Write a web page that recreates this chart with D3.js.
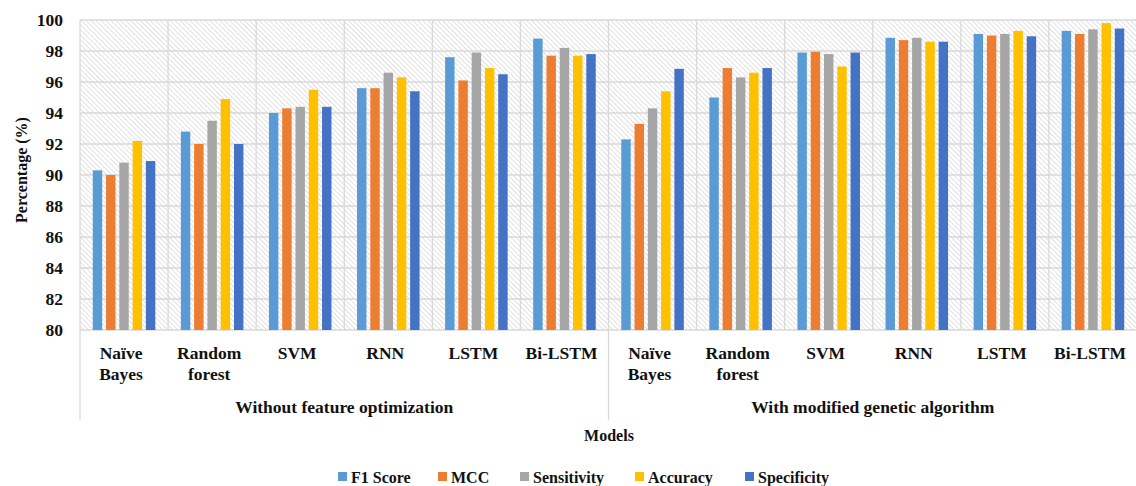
<!DOCTYPE html>
<html>
<head>
<meta charset="utf-8">
<script src="https://cdn.jsdelivr.net/npm/d3@7"></script>
<style>
  html, body { margin: 0; padding: 0; background: #fff; }
  svg text { font-family: 'Liberation Serif', serif; font-weight: bold; fill: #111; }
</style>
</head>
<body>
<div id="chart"></div>
<script>
// Model performance, two feature settings
const groups = ['Without feature optimization', 'With modified genetic algorithm'];
const models = ['Naïve Bayes', 'Random forest', 'SVM', 'RNN', 'LSTM', 'Bi-LSTM'];
const metrics = ['F1 Score', 'MCC', 'Sensitivity', 'Accuracy', 'Specificity'];
const colors = ['#5B9BD5', '#ED7D31', '#A5A5A5', '#FFC000', '#4472C4'];
const yTicks = [80, 82, 84, 86, 88, 90, 92, 94, 96, 98, 100];

// values per model: [F1, MCC, Sensitivity, Accuracy, Specificity]
const withoutOpt = [
    [90.3, 90.0, 90.8, 92.2, 90.9],
    [92.8, 92.0, 93.5, 94.9, 92.0],
    [94.0, 94.3, 94.4, 95.5, 94.4],
    [95.6, 95.6, 96.6, 96.3, 95.4],
    [97.6, 96.1, 97.9, 96.9, 96.5],
    [98.8, 97.7, 98.2, 97.7, 97.8]
];
const withGA = [
    [92.3, 93.3, 94.3, 95.4, 96.85],
    [95.0, 96.9, 96.3, 96.6, 96.9],
    [97.9, 97.95, 97.8, 97.0, 97.9],
    [98.85, 98.7, 98.85, 98.6, 98.6],
    [99.1, 99.0, 99.1, 99.3, 98.95],
    [99.3, 99.1, 99.4, 99.8, 99.45]
];

const width = 1136, height = 486;
const margin = { top: 20, right: -1, bottom: 156, left: 80 };
const chartWidth = width - margin.left - margin.right;
const chartHeight = height - margin.top - margin.bottom;
const serif = "'Liberation Serif', serif";

const rows = [];
[withoutOpt, withGA].forEach((set, gi) => {
    set.forEach((vals, mi) => {
        rows.push({ key: gi + '-' + mi, group: gi, model: models[mi], values: vals });
    });
});

const svg = d3.select('#chart').append('svg')
    .attr('width', width)
    .attr('height', height)
    .attr('font-family', 'Liberation Serif')
    .attr('font-weight', 'bold');

// hatch pattern for the plot background
const defs = svg.append('defs');
const pat = defs.append('pattern')
    .attr('id', 'hatch')
    .attr('patternUnits', 'userSpaceOnUse')
    .attr('width', 3.5)
    .attr('height', 3.5)
    .attr('patternTransform', 'rotate(-45)');
pat.append('rect').attr('width', 3.5).attr('height', 3.5).attr('fill', '#fff');
pat.append('line')
    .attr('x1', 0).attr('y1', 0).attr('x2', 0).attr('y2', 3.5)
    .attr('stroke', '#cfcfcf').attr('stroke-width', 1.2);

const g = svg.append('g')
    .attr('transform', `translate(${margin.left},${margin.top})`);

// Scales
const x0 = d3.scaleBand()
    .domain(rows.map(d => d.key))
    .range([0, chartWidth])
    .padding(0);

const x1 = d3.scaleBand()
    .domain(metrics)
    .range([x0.bandwidth() * 0.145, x0.bandwidth() * 0.855])
    .paddingInner(0.29);

const y = d3.scaleLinear()
    .domain([80, 100])
    .range([chartHeight, 0]);

g.append('rect')
    .attr('width', chartWidth)
    .attr('height', chartHeight)
    .attr('fill', 'url(#hatch)');

// Grid lines
g.append('g')
    .selectAll('line')
    .data(yTicks)
    .join('line')
    .attr('x1', 0)
    .attr('x2', chartWidth)
    .attr('y1', d => y(d))
    .attr('y2', d => y(d))
    .attr('stroke', '#d9d9d9')
    .attr('stroke-width', 1.3);

g.append('g')
    .selectAll('line')
    .data(rows)
    .join('line')
    .attr('x1', d => x0(d.key))
    .attr('x2', d => x0(d.key))
    .attr('y1', 0)
    .attr('y2', chartHeight)
    .attr('stroke', '#d9d9d9')
    .attr('stroke-width', 1.3);

// Bars
const cat = g.selectAll('.cat')
    .data(rows)
    .join('g')
    .attr('class', 'cat')
    .attr('transform', d => `translate(${x0(d.key)},0)`);

cat.selectAll('rect')
    .data(d => d.values.map((v, i) => ({ metric: metrics[i], value: v, color: colors[i] })))
    .join('rect')
    .attr('x', d => x1(d.metric))
    .attr('y', d => y(d.value))
    .attr('width', x1.bandwidth())
    .attr('height', d => y(80) - y(d.value))
    .attr('fill', d => d.color);

// Y axis labels
const yAxis = g.append('g')
    .call(d3.axisLeft(y).tickValues(yTicks).tickSize(0).tickPadding(17));
yAxis.attr('font-family', 'Liberation Serif').attr('font-size', 17.5);
yAxis.select('.domain').remove();
yAxis.selectAll('text')
    .style('font-family', serif)
    .style('font-weight', 'bold')
    .attr('fill', '#111');

g.append('text')
    .attr('transform', 'rotate(-90)')
    .attr('x', -150)
    .attr('y', -53)
    .style('text-anchor', 'middle')
    .style('font-size', '16px')
    .text('Percentage (%)');

// X axis: model labels
const modelLabels = g.append('g')
    .selectAll('text')
    .data(rows)
    .join('text')
    .attr('x', d => x0(d.key) + x0.bandwidth() / 2 - 3)
    .attr('y', chartHeight + 29)
    .style('text-anchor', 'middle')
    .style('font-size', '17.5px');

modelLabels.each(function(d) {
    const words = d.model.split(' ');
    const t = d3.select(this);
    words.forEach((w, i) => {
        t.append('tspan')
            .attr('x', x0(d.key) + x0.bandwidth() / 2 - 3)
            .attr('dy', i === 0 ? 0 : 21)
            .text(w);
    });
});

// Group separators and labels
const groupWidth = x0.bandwidth() * models.length;
g.append('g')
    .selectAll('line')
    .data([0, 1, 2])
    .join('line')
    .attr('x1', d => d * groupWidth)
    .attr('x2', d => d * groupWidth)
    .attr('y1', chartHeight)
    .attr('y2', chartHeight + 90)
    .attr('stroke', '#d9d9d9')
    .attr('stroke-width', 1.3);

g.append('g')
    .selectAll('text')
    .data(groups)
    .join('text')
    .attr('x', (d, i) => i * groupWidth + groupWidth / 2)
    .attr('y', chartHeight + 83)
    .style('text-anchor', 'middle')
    .style('font-size', '17.5px')
    .text(d => d);

g.append('text')
    .attr('x', 529)
    .attr('y', chartHeight + 111)
    .style('text-anchor', 'middle')
    .style('font-size', '16px')
    .text('Models');

// Legend
const legendX = [338, 438, 520, 635, 745];
const legend = svg.append('g')
    .attr('transform', 'translate(0,472)');

const item = legend.selectAll('g')
    .data(metrics)
    .join('g')
    .attr('transform', (d, i) => `translate(${legendX[i]},0)`);

item.append('rect')
    .attr('width', 9)
    .attr('height', 9)
    .attr('fill', (d, i) => colors[i]);

item.append('text')
    .attr('x', 13)
    .attr('y', 11)
    .style('font-size', '16px')
    .text(d => d);
</script>
</body>
</html>
